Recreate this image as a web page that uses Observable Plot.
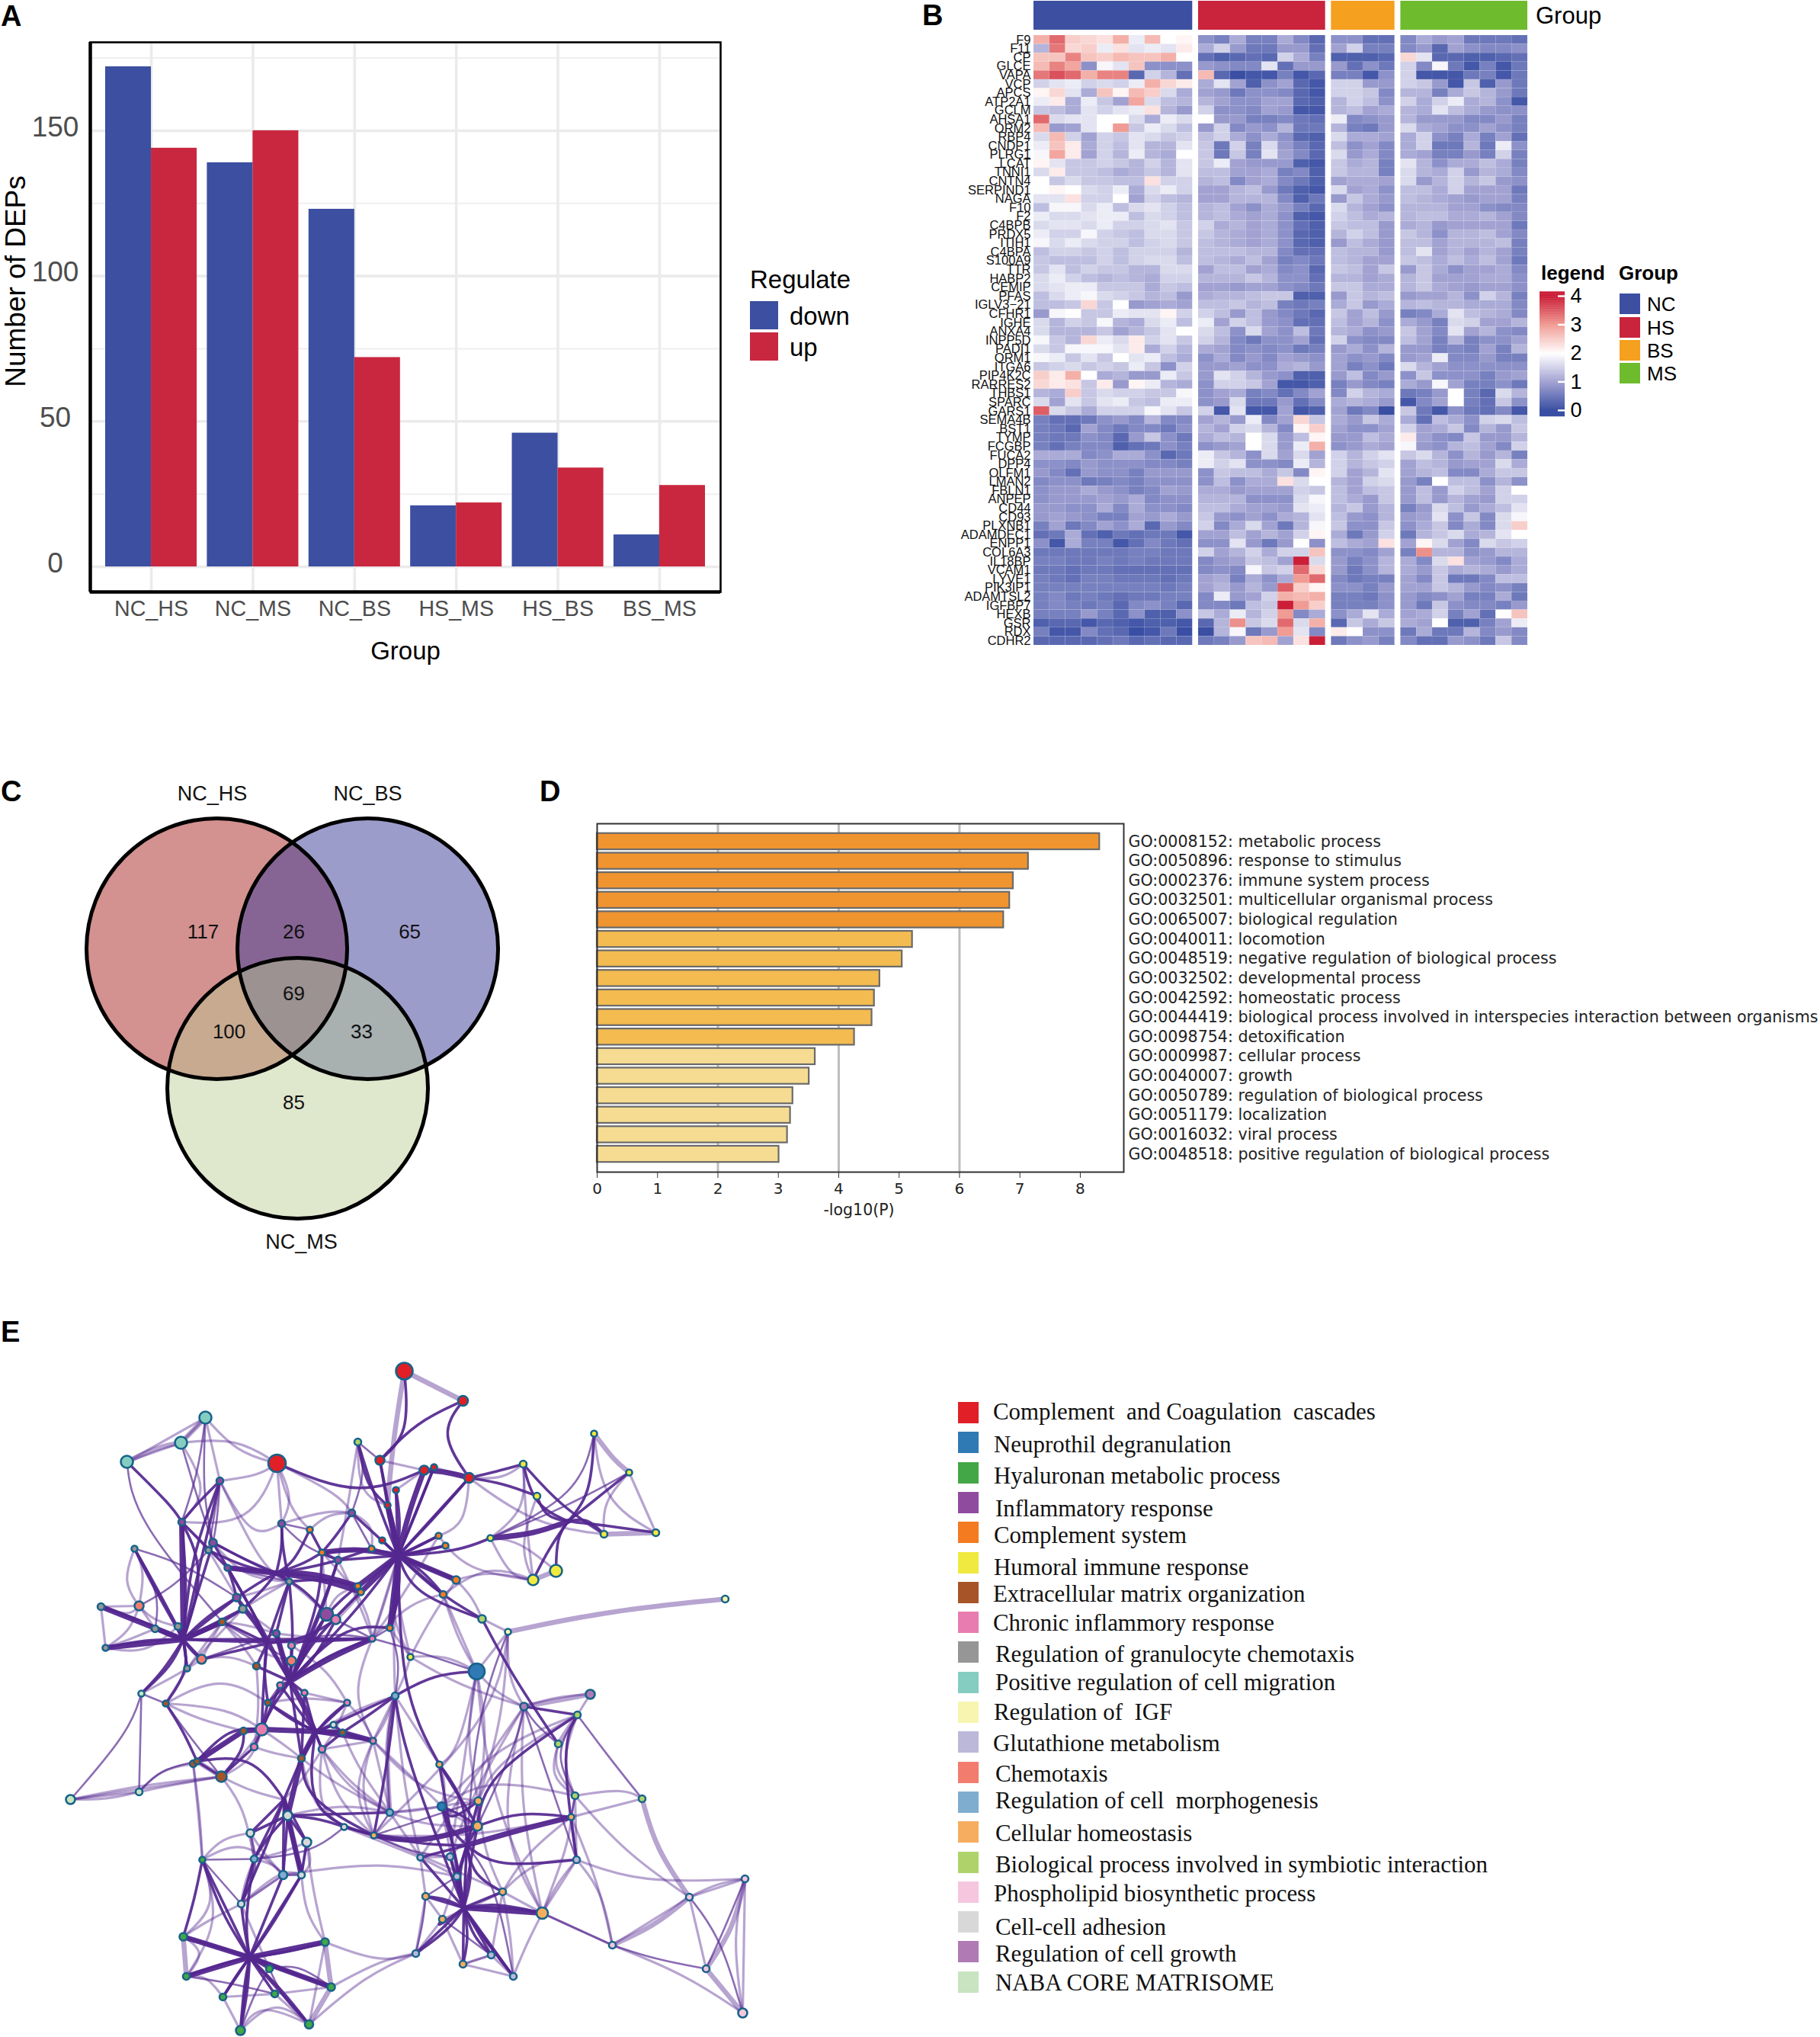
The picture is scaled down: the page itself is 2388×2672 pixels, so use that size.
<!DOCTYPE html>
<html><head><meta charset="utf-8">
<script src="https://cdn.jsdelivr.net/npm/d3@7"></script>
<script src="https://cdn.jsdelivr.net/npm/@observablehq/plot@0.6"></script>
<style>
html,body{margin:0;padding:0;background:#fff}
#page{position:relative;width:2388px;height:2672px;overflow:hidden;font-family:"Liberation Sans",sans-serif}
#page svg{position:absolute;background:transparent;max-width:none;overflow:visible}
.t{position:absolute;white-space:pre;line-height:1}
.s{position:absolute}
</style></head><body><div id="page"></div>
<script>
// ---------- Panel A ----------
const comparisons=["NC_HS","NC_MS","NC_BS","HS_MS","HS_BS","BS_MS"];
const downCounts=[172,139,123,21,46,11];
const upCounts=[144,150,72,22,34,28];
// ---------- Panel B ----------
const genes=["F9","F11","CP","GLCE","VAPA","VCP","APCS","ATP2A1","GCLM","AHSA1","ORM2","RBP4","CNDP1","PLRG1","LCAT","TNNI1","CNTN4","SERPIND1","NAGA","F10","F2","C4BPB","PRDX5","ITIH1","C4BPA","S100A9","TTR","HABP2","CEMIP","PFAS","IGLV3−21","CFHR1","IGHE","ANXA4","INPP5D","PADI1","ORM1","ITGA6","PIP4K2C","RARRES2","THBS1","SPARC","GARS1","SEMA4B","BST1","TYMP","FCGBP","FUCA2","DPP4","OLFM1","LMAN2","FBLN1","ANPEP","CD44","CD93","PLXNB1","ADAMDEC1","ENPP1","COL6A3","IL18BP","VCAM1","LYVE1","PIK3IP1","ADAMTSL2","IGFBP7","HEXB","GSR","RDX","CDHR2"];
const heatGroups=["NC","HS","BS","MS"];
const heatGroupColors=["#3c4fa0","#c9243c","#f5a01e","#6ebb2e"];
// expression level x 10, one row per gene
const ncLevels=[[28,34,25,24,23,28,18,27,20,21],[12,33,24,25,18,23,17,18,17,22],[26,26,32,26,25,27,26,26,28,20],[27,32,29,8,19,17,26,8,8,8],[33,36,34,28,32,32,3,15,12,4],[15,17,18,15,16,15,18,28,24,22],[21,24,17,11,26,21,27,25,16,11],[18,22,11,18,14,10,29,16,13,12],[14,13,11,17,15,17,18,23,12,9],[34,16,17,17,20,20,16,11,18,16],[27,9,10,17,20,30,14,18,16,13],[16,27,15,10,15,14,17,16,14,15],[18,26,22,11,15,13,17,12,12,17],[19,29,22,10,15,12,18,12,11,20],[21,17,14,14,15,14,12,15,12,17],[16,22,14,14,13,11,12,14,12,17],[20,14,16,14,14,13,13,23,15,15],[20,21,20,16,15,18,11,16,18,15],[17,17,23,15,15,20,10,15,13,12],[13,19,19,16,18,13,16,17,15,13],[18,16,16,17,18,18,13,16,15,13],[16,17,17,16,18,15,15,16,17,14],[18,15,15,19,15,14,13,16,16,14],[19,16,18,16,15,15,13,15,16,14],[13,15,15,14,15,13,15,15,15,12],[14,13,13,13,15,13,15,16,16,13],[14,17,13,15,14,14,12,12,16,16],[16,18,15,13,12,13,12,11,15,15],[16,17,18,18,14,14,14,11,14,13],[13,16,18,19,16,15,14,12,13,9],[13,13,14,24,14,20,9,10,11,10],[9,19,20,14,14,18,17,17,21,15],[16,12,15,14,19,12,11,16,18,13],[16,12,12,12,14,10,12,14,17,20],[19,14,12,24,18,16,22,15,17,14],[16,14,19,19,19,17,22,11,15,12],[19,18,14,17,14,20,17,18,13,11],[14,15,16,14,15,14,18,14,8,15],[25,22,28,20,11,12,9,9,18,14],[24,22,23,14,22,9,21,18,12,11],[12,11,25,14,16,15,15,14,14,19],[16,10,17,14,17,18,14,13,18,18],[35,16,14,11,15,15,15,19,17,14],[6,4,4,5,8,9,7,12,7,7],[6,5,3,10,7,5,7,7,5,8],[6,5,5,8,7,3,9,14,8,5],[6,4,6,7,7,2,4,5,8,6],[11,11,11,7,8,11,11,8,3,5],[8,8,7,9,8,8,8,7,7,6],[9,7,4,9,8,8,6,9,9,9],[7,8,8,5,6,7,6,8,8,8],[8,9,9,11,9,8,6,7,10,9],[8,9,9,9,10,9,11,7,8,8],[9,9,8,8,11,7,11,8,8,7],[9,10,9,8,6,6,10,9,11,9],[6,10,5,7,10,8,11,3,9,7],[4,5,11,4,2,5,4,5,5,1],[8,1,11,6,6,1,4,7,5,4],[5,5,5,5,5,5,6,6,5,5],[6,6,5,5,6,5,6,5,5,5],[5,5,4,5,5,4,4,4,4,4],[6,5,4,6,6,5,5,5,4,5],[6,6,6,6,6,6,6,6,5,6],[6,7,5,6,5,4,5,5,6,6],[6,7,6,5,6,3,7,8,6,3],[6,6,6,9,6,3,8,2,2,8],[2,3,3,1,3,2,1,2,2,1],[6,1,1,7,4,3,0,1,5,0],[3,3,3,3,4,5,3,4,3,3]];
const hsLevels=[[8,6,11,6,6,11,7,3],[11,15,9,5,5,9,9,4],[4,2,3,4,3,15,11,6],[9,8,7,7,17,4,9,9],[27,3,0,1,1,6,1,3],[11,17,10,2,8,10,3,1],[10,9,5,8,8,7,3,1],[12,10,8,8,10,10,3,2],[15,8,8,7,10,9,1,1],[20,9,9,6,6,7,5,4],[9,15,7,9,8,12,5,5],[13,15,11,8,11,8,3,2],[14,5,15,6,16,9,6,3],[14,5,14,6,17,10,7,3],[14,18,10,9,9,9,2,1],[13,13,10,10,11,6,7,2],[12,13,7,10,11,7,5,2],[10,10,12,13,9,5,2,1],[10,10,12,12,12,7,2,5],[12,13,10,8,11,9,6,3],[12,13,11,10,11,8,2,1],[15,11,12,10,11,8,4,2],[14,12,11,10,11,8,3,2],[13,12,11,10,11,8,3,2],[13,13,13,12,12,7,4,4],[13,12,11,13,10,6,7,5],[10,13,13,10,11,7,8,3],[12,12,12,14,12,8,8,4],[10,10,9,10,10,8,7,5],[11,12,12,13,14,14,2,2],[13,13,14,12,13,6,5,6],[15,13,9,13,9,7,5,3],[18,10,15,13,9,8,4,4],[16,13,8,16,10,8,13,5],[15,12,7,5,8,8,10,4],[11,10,7,8,7,8,5,6],[8,11,7,9,7,10,9,8],[9,9,10,8,8,11,12,9],[9,17,15,12,9,8,2,2],[8,15,15,14,10,1,1,2],[8,10,11,6,7,4,7,10],[8,9,16,5,5,9,4,7],[15,1,17,1,1,10,1,2],[10,12,9,18,7,10,24,14],[12,10,15,16,12,7,21,25],[11,13,12,20,16,9,13,21],[8,9,10,20,16,9,18,28],[18,14,12,8,16,10,16,10],[18,15,17,8,8,7,18,12],[8,14,13,13,11,14,7,21],[8,13,8,11,11,23,16,20],[11,11,9,10,10,10,15,14],[12,12,12,8,8,8,16,19],[13,13,11,10,10,9,17,18],[14,9,8,10,8,11,12,17],[15,7,11,16,10,5,12,19],[10,10,13,10,12,10,15,21],[8,8,17,9,5,9,20,8],[15,10,12,15,11,15,15,26],[7,9,10,14,13,10,40,16],[7,8,7,19,14,15,34,24],[10,11,6,11,8,11,30,34],[10,12,9,12,9,35,25,21],[7,18,9,10,15,28,27,28],[7,7,5,13,14,40,30,25],[14,11,18,12,15,30,7,11],[3,12,31,14,16,34,16,28],[0,12,19,5,9,30,17,7],[5,6,9,26,27,10,23,40]];
const bsLevels=[[8,8,4,4],[10,15,6,6],[2,2,2,3],[9,4,8,5],[6,6,1,8],[15,15,9,9],[15,15,14,7],[12,15,13,8],[12,13,10,11],[18,7,8,9],[12,6,5,9],[16,11,11,10],[13,8,10,7],[16,9,11,7],[14,11,12,6],[14,12,12,6],[10,11,11,10],[16,10,11,8],[9,14,11,9],[16,12,10,8],[15,13,11,12],[14,13,13,9],[12,15,13,9],[9,13,11,9],[13,12,12,9],[13,12,10,10],[14,13,10,14],[12,12,10,11],[14,14,11,11],[9,14,12,13],[11,14,9,11],[14,10,13,9],[13,10,12,8],[12,11,8,9],[15,8,7,7],[9,11,8,12],[10,8,9,7],[10,6,8,5],[9,13,7,9],[6,9,7,6],[7,15,12,11],[11,12,11,9],[10,5,7,0],[11,9,14,11],[10,8,8,10],[9,9,13,11],[8,9,11,10],[15,12,15,17],[15,12,14,15],[15,10,12,17],[12,10,15,16],[13,10,13,14],[13,11,9,14],[12,14,9,12],[13,9,8,12],[14,8,8,14],[11,5,9,15],[13,11,10,23],[8,8,7,10],[9,6,8,12],[9,5,8,12],[7,5,6,6],[8,8,6,9],[6,6,5,8],[6,6,6,8],[8,11,17,11],[3,14,11,14],[22,20,8,8],[5,8,9,6]];
const msLevels=[[7,11,9,10,5,5,5,4],[7,9,3,10,8,7,7,8],[24,17,3,3,2,2,3,4],[15,7,19,5,1,6,1,5],[15,1,1,1,5,6,1,5],[15,14,9,1,14,2,9,5],[12,12,6,11,14,12,9,5],[15,11,15,18,11,12,8,1],[12,11,17,13,11,9,8,8],[12,9,9,9,7,7,9,6],[16,11,10,8,8,10,8,6],[11,15,8,6,11,6,10,4],[11,15,5,5,12,5,18,8],[11,10,6,6,9,6,15,6],[17,12,8,11,11,13,11,6],[16,12,11,15,9,12,11,7],[16,9,12,15,12,14,9,8],[13,13,11,15,10,10,10,5],[13,12,11,10,9,10,10,6],[12,12,12,10,10,8,7,7],[12,13,13,11,11,12,10,7],[11,12,9,10,10,10,10,5],[14,12,8,12,12,13,10,7],[13,13,10,12,12,12,13,6],[13,17,10,12,10,12,10,6],[14,13,11,13,11,13,10,5],[9,14,11,8,10,10,11,7],[12,14,10,10,10,11,11,8],[12,14,11,10,9,10,10,8],[9,10,10,12,8,15,12,6],[12,13,12,12,11,11,11,7],[6,7,11,17,13,12,11,7],[11,9,6,16,15,10,10,12],[14,10,7,17,10,12,8,7],[13,10,6,12,6,8,8,10],[9,9,6,7,6,10,6,12],[9,10,18,7,7,9,6,6],[16,12,10,8,8,8,8,8],[8,14,8,8,8,6,9,10],[11,9,19,10,6,6,8,5],[5,6,9,20,6,3,16,12],[1,7,10,20,6,4,14,8],[14,5,1,8,5,4,7,1],[11,4,13,11,8,15,16,13],[15,10,11,14,7,12,9,14],[22,10,8,7,14,9,9,12],[19,9,8,12,13,10,7,15],[14,16,12,8,12,9,12,6],[10,13,12,9,10,10,16,11],[10,12,13,7,7,11,14,14],[9,6,20,13,13,8,12,8],[9,13,9,15,13,10,15,20],[9,13,9,12,10,9,15,15],[6,9,16,13,9,11,13,17],[9,10,17,8,14,7,16,19],[8,11,14,7,11,7,16,25],[5,12,14,16,11,12,17,20],[10,21,16,10,7,16,14,15],[6,31,12,12,8,9,12,12],[11,7,16,23,10,9,7,11],[11,9,14,11,12,11,9,11],[10,7,14,5,5,7,13,13],[10,10,14,12,9,7,8,6],[9,7,8,10,6,6,11,5],[9,5,14,8,7,7,6,9],[10,11,15,6,10,4,20,26],[11,10,20,2,2,6,10,18],[5,11,5,5,12,7,9,7],[7,4,4,9,8,5,14,7]];
const heatTicks=[0,1,2,3,4];
const heatStops=["#3a4fa3","#a2a2d2","#ffffff","#f09c94","#cb1f38"];
// ---------- Panel C ----------
const vennNames=["NC_HS","NC_BS","NC_MS"];
const vennColors=["#d39190","#393997","#b8ca90"];
const vennOpacity=[1,.5,.45];
const vennCx=[0,1.158,.62];
const vennCy=[0,0,1.07];
const vennLabelX=[-.035,1.158,.649];
const vennLabelY=[-1.187,-1.187,2.251];
const vennCounts=[117,26,65,69,100,33,85];
const vennCountX=[-.105,.59,1.48,.59,.094,1.111,.59];
const vennCountY=[-.129,-.129,-.129,.345,.637,.637,1.18];
// ---------- Panel D ----------
const goTerms=["GO:0008152: metabolic process","GO:0050896: response to stimulus","GO:0002376: immune system process","GO:0032501: multicellular organismal process","GO:0065007: biological regulation","GO:0040011: locomotion","GO:0048519: negative regulation of biological process","GO:0032502: developmental process","GO:0042592: homeostatic process","GO:0044419: biological process involved in interspecies interaction between organisms","GO:0098754: detoxification","GO:0009987: cellular process","GO:0040007: growth","GO:0050789: regulation of biological process","GO:0051179: localization","GO:0016032: viral process","GO:0048518: positive regulation of biological process"];
const goValues=[8.32,7.14,6.89,6.83,6.73,5.22,5.05,4.68,4.59,4.55,4.26,3.61,3.51,3.24,3.2,3.15,3.01];
const goTiers=[0,0,0,0,0,1,1,1,1,1,1,2,2,2,2,2,2];
const goTierColors=["#f09430","#f3bb50","#f6dc92"];
// ---------- Panel E ----------
const clusterKeys=["R","N","H","I","C","U","E","P","G","M","F","T","X","O","S","B","L","A","W","V"];
const clusterNames=["Complement  and Coagulation  cascades","Neuprothil degranulation","Hyaluronan metabolic process","Inflammatory response","Complement system","Humoral immune response","Extracellular matrix organization","Chronic inflammory response","Regulation of granulocyte chemotaxis","Positive regulation of cell migration","Regulation of  IGF","Glutathione metabolism","Chemotaxis","Regulation of cell  morphogenesis","Cellular homeostasis","Biological process involved in symbiotic interaction","Phospholipid biosynthetic process","Cell-cell adhesion","Regulation of cell growth","NABA CORE MATRISOME"];
const clusterColors=["#e01f26","#2f7ab5","#43a647","#8f4b9e","#f47b20","#f0e93f","#a65428","#e87cb0","#969696","#85cdc0","#f7f5b0","#bcb8da","#f27c6e","#7fadd0","#f7ad5f","#afd36a","#f5c6de","#d8d8d8","#b07ab5","#c8e4c0"];
const legendTextDx=[0,1,1,3,1,1,0,0,3,3,1,0,3,3,3,3,1,3,3,3];
const legendTextDy=[-1,3,4,8,4,6,2,1,3,0,0,2,2,-2,2,3,2,7,3,1];
const nodes=[["R1",530,1798,12],["R2",363,1919,12.5],["R3",498,1915,7],["R4",556,1928,7],["R5",519,1954,5],["R6",508,1974,5],["R7",501,2020,5],["R8",607,1837,7.5],["R9",569,1924,5],["R10",615,1938,7.5],["M1",269,1859,9],["M2",237,1892,9],["M3",166,1917,9],["B1",469,1891,5.5],["B2",632,2123,6],["B3",757,2249,5.5],["B4",732,2287,5.5],["B5",754,2355,5.5],["B6",842,2359,5.5],["I1",288,1942,5.5],["I2",238,1996,5.5],["I3",369,1998,5.5],["I4",461,1984,5.5],["I5",443,2046,5.5],["I6",279,2023,6],["I7",298,2056,5],["I8",310,2095,6],["I9",428,2117,9.5],["I10",362,2142,5.5],["C1",406,2006,5],["C2",487,2031,5],["C3",422,2036,5],["C4",469,2080,5],["C5",473,2088,5],["C6",511,2135,5],["C7",575,2014,5],["C8",584,2027,5],["C9",598,2072,6],["C10",581,2091,5.5],["G1",273,2033,5],["G2",176,2031,5],["G3",379,2074,5],["G4",318,2110,6],["G5",132,2107,5.5],["G6",203,2136,5.5],["G7",233,2133,5.5],["G8",138,2161,5],["G9",245,2188,5],["X1",182,2106,7],["X2",382,2178,7],["X3",264,2176,7],["E1",291,2127,5.5],["E2",336,2185,5.5],["E3",217,2234,5],["E4",253,2313,5.5],["E5",258,2310,5],["E6",290,2330,8],["E7",319,2270,5.5],["E8",351,2233,5],["E9",449,2272,5],["E10",395,2306,5.5],["P1",440,2124,7],["P2",488,2149,5],["P3",382,2158,5.5],["P4",367,2210,5],["P5",343,2268,9],["P6",333,2291,5.5],["P7",399,2220,5],["P8",455,2233,5],["P9",489,2283,5],["P10",422,2294,5.5],["U1",538,2173,5],["U2",686,1920,5.5],["U3",779,1880,5],["U4",825,1931,5],["U5",704,1962,5.5],["U6",860,2010,5.5],["U7",792,2012,5.5],["U8",643,2017,5],["U9",729,2060,9],["U10",699,2072,8],["F1",666,2140,5],["F2",951,2097,5.5],["N1",625,2192,11.5],["N2",579,2369,6.5],["V1",185,2221,5],["V2",92,2360,7],["V3",182,2350,5.5],["A1",437,2262,5],["A2",377,2381,7],["A3",451,2396,5],["A4",328,2404,6],["A5",402,2416,7],["A6",395,2459,5.5],["A7",316,2497,5.5],["O1",518,2224,5.5],["O2",511,2377,5.5],["O3",333,2438,5.5],["O4",371,2459,6.5],["S1",490,2407,5],["S2",576,2314,5],["S3",627,2362,6],["S4",626,2395,7],["S5",749,2383,5],["S6",659,2481,5.5],["S7",558,2487,5.5],["S8",580,2517,5.5],["S9",711,2509,8.5],["S10",607,2576,5.5],["T1",551,2436,5],["T2",590,2435,5.5],["T3",599,2461,5.5],["T4",545,2562,5.5],["T5",644,2564,5.5],["T6",673,2592,5.5],["T7",756,2439,5.5],["H1",265,2439,5],["H2",240,2540,6],["H3",426,2547,6],["H4",244,2592,5.5],["H5",353,2582,5.5],["H6",434,2606,6],["H7",292,2619,5.5],["H8",360,2615,5.5],["H9",405,2655,6.5],["H10",315,2663,7],["W1",774,2222,7],["W2",687,2238,6],["L1",803,2551,5.5],["L2",904,2488,5.5],["L3",977,2464,5.5],["L4",926,2582,5.5],["L5",974,2640,7]];
const bundlePoints=[["hA",522,2040],["hB",240,2150],["hC",413,2272],["hD",372,2360],["hE",327,2567],["hF",608,2502],["hG",612,2420],["hH",380,2205],["hU",745,1995],["hS",362,2063],["hJ",350,2155]];
const edgesBand=["F1>F2@800,2112","R1>R8","M3>M2@205,1898","M2>M1","U3>U4@805,1915","U6>U7","U9>U10","B3>B4","W1>W2","H2>H4","H3>H6","L1>L2@860,2525","L4>L5","L3>L4@962,2530","E5>E6","O1>O2@505,2285","H6>H9","R1>R6@515,1890","B6>L2@860,2425","C5>P1"];
const edgesThick=["R6>hA","R4>hA@535,1985","C4>hA","C5>hA","hA>C6","R10>R4@585,1930","I7>hS","hS>C4@410,2062","G5>hB","G8>hB","P5>E9","E9>P9","E5>E7","E7>P5","E10>A2","H2>hE","H4>hE","H3>hE","S5>hG@680,2400","S1>S4@550,2418","U8>hU@700,2012","C3>hA@470,2030","T3>hF","hC>E10","hS>C5@420,2070","hH>P2@430,2175","hC>hH@400,2240","R6>hA@515,2000","C9>hA","hA>C6@522,2090","G7>hB","I2>hB","E1>hB","I10>hH","A6>hD","S9>hF","H6>hE"];
const edgesDark=["R3>hA","R5>hA","R7>hA","R9>hA","R10>hA","C7>hA","C8>hA","C9>hA","C10>hA","C2>hA","I5>hA","B2>hA@540,2090","R2>R4@470,1965","R1>R3@537,1880","R8>R3@545,1865","I4>hA","R8>R10@575,1880","R10>U2@650,1930","R10>U5@660,1945","U8>hA@600,2035","M3>I2@225,1975","I1>I2@255,1975","I1>hB@262,2050","I2>hB@270,2060","G2>hB@200,2080","I6>hB","E1>hB","I8>hB","G4>hB","G6>hB","G7>hB","X3>hB","G9>hB","V1>hB@225,2185","E3>hB@248,2190","P2>hB@360,2150","I2>I7","I6>I7","I7>I8@305,2075","I7>hH@335,2120","I9>hH@400,2170","P1>hH@410,2180","P2>hH@430,2170","I10>hH","E2>hH","X2>hH","P3>hH","G3>I10","I3>G3@370,2030","C1>C3","C3>C2","C3>I5","I5>C2","I4>C3@440,2015","G3>C4@430,2070","I3>hS@370,2030","I5>hH@420,2120","hH>P4","hH>P7","hH>E8","hH>E10","hH>P5@355,2240","E3>E5@240,2270","E5>P5@300,2265","E6>E7@320,2295","E6>E5","E5>hD@330,2300","E6>P6","P6>P5","P10>E9","A1>E9","P8>E10@420,2260","P7>E10","E8>E9@400,2270","O1>E9@490,2245","P9>E9","E10>hC","P10>hC","O2>A2","A2>A3@420,2385","A3>S1","A2>A4","A2>A5","A2>A6@385,2420","A2>O4","A2>O3@350,2410","O3>A7","A6>hE","O4>hE","H1>hE","H5>hE","H6>hE","H7>hE","H8>hE","H9>hE","H10>hE","A6>A5","O1>S1@510,2300","hA>S2@525,2220","S2>hG@610,2360","S2>hF@590,2400","N2>S3@590,2390","S3>hG","S4>hG","N2>hG@590,2400","T7>hG@650,2450","T1>hG","T1>hF","T2>hF","T3>hF","S6>hF","S7>hF","S8>hF@570,2530","S9>hF@660,2500","T4>hF","T5>hF","T6>hF","S10>hF","hG>hF","B3>S4@635,2330","B2>B4@670,2195","N1>O1@570,2195","W2>B3","B3>T7@735,2290","U2>hU@700,1975","U5>hU@715,1990","U6>hU@790,2000","U7>hU@770,1990","U9>hU@730,2015","U10>hU@720,2030","U4>hU@770,1975","U3>hU@775,1960","U2>U7@735,1975","S4>S5@680,2375","H1>H2@255,2490",
"hJ>E1@320,2140","hJ>G4@335,2130","hJ>I8@335,2125","hJ>I7@330,2110","hJ>G3@365,2110","hJ>E2","hJ>E8@345,2190","hJ>X3@310,2165","hJ>P5@345,2210","hJ>hH","G3>hH@385,2140","C3>hH@420,2100","C4>hH@420,2120","C5>hH@410,2150","I5>hH@425,2100","C6>hH@450,2130","hA>hH@470,2110","hC>P8","hC>P7","hC>P9","hC>E9","hC>A1","hC>P10","hC>O1","hC>E8","E8>P5","P5>P4","P4>hC","E10>hD","hD>O3","hD>O4","hD>A6","hD>A7@350,2420","hD>A4","hD>A5","E10>S1@400,2360","hC>S1@400,2380","S1>hG@560,2420","I6>hS@320,2045","I7>hS@320,2058","G1>hS@320,2055","C1>hS@385,2050","C3>hS@400,2050","I5>hS@410,2055","G3>hS","I8>hS@340,2075","G4>hS@345,2085","I9>hS@400,2085","P1>hJ@400,2150","B1>R6@480,1950","B1>hA@490,1960","R3>R6","R6>hA@515,2010","R5>hA@525,1990","R10>hA@570,1990","R9>hA@545,1985","C9>hA@560,2055","C10>hA@555,2060","C7>hA@545,2030","C8>hA@555,2035","hA>C6@518,2090","hA>C6@525,2090","B2>hA@575,2090","G5>hB@185,2125","G8>hB@190,2150","G6>hB@220,2145","G7>hB@237,2140","I8>hB@270,2120","I8>G4","hB>V1@215,2190","hB>G9@243,2170","I2>hB@245,2080","I1>hB@250,2040","G2>hB@215,2100","E1>hB@265,2140","G4>hB@280,2135","X3>hB@250,2165","P2>hB@370,2155","H2>hE@290,2555","H4>hE@290,2575","H3>hE@380,2560","H6>hE@390,2590","H9>hE@370,2610","H10>hE@320,2600","H10>hE@325,2610","H7>hE@310,2590","H5>hE@345,2570","O3>hE@320,2520","A6>hE@360,2520","H1>hE@290,2510","A7>hE@320,2530","hG>hF@600,2460","hG>hF@620,2460","S9>hF@650,2495","S7>hF@585,2490","S10>hF@615,2540","T6>hF@640,2550","T6>hF@625,2530","T5>hF@620,2540","T4>hF@590,2530","T3>hG","S6>hG@620,2460","S4>hF@615,2450","S2>S4","O1>hF@530,2300","N2>hF@600,2440","N2>S4@605,2380"];
const edgesMid=["M3>E1@175,1990","M1>I6@265,1960","M2>I6@260,1970","M1>I2@260,1930","I1>G1","I1>I6@285,1990","R3>B1","B1>I4@480,1930","I3>C1","I4>C2","I3>I5@400,2030","I7>G3","I6>G3@330,2050","G2>G6@210,2090","G2>I8@240,2050","X1>G1@230,2080","X3>I10@310,2160","E1>X2@330,2150","E3>E6@250,2280","V1>E3","V2>V1@170,2270","V1>V3","V3>E5@210,2320","I9>E8@395,2170","P1>P2","P3>P2@430,2140","P2>C6","C6>O1@525,2180","O1>O2@505,2280","N1>P2@530,2160","O2>S1","S1>S3","S1>T2@540,2430","A4>A7@340,2450","A3>O3@410,2430","A7>H1","H1>O3","T2>T3","T3>S7","S7>T4@555,2520","T5>S8","T6>hG@650,2470","L1>L4@860,2570","S9>L1","H5>H6@390,2575","H5>H9@370,2620","H5>H10@335,2610","H8>H4@300,2600","B5>B3@725,2300","S5>B5","B6>B3@795,2300","W2>B4@700,2260","W2>S4@680,2280","W2>T7@725,2350","F1>hF@620,2260","U3>U8@760,1960","U4>U8@745,1975","L2>L5@945,2540","L3>L4@950,2530"];
const edgesLight=["M1>M2","M2>M3","M1>M3","R2>M2@310,1885","R2>M1@310,1905","M1>I1","R2>I1@340,1935","R2>I3","R2>I3@385,1965","R2>C1@380,1980","R2>I2@330,2000","I1>I3@330,2020","M2>I2@275,1955","I1>G3@345,2060","I3>I4@430,1980","C1>I4@430,1985","R2>I4@445,1960","B1>R6@470,1960","B1>I5@455,1980","R3>R4","R5>R4","I4>C2@490,2000","R10>C7@610,2000","R10>R9","R10>U2@660,1940","R10>U7@700,2000","U2>U8@690,1980","U4>U6","U4>U7@790,1970","U3>U6@790,1970","U8>U9@680,2020","U8>U10@670,2070","U5>U10@680,2030","U2>U10@690,2000","B2>F1","C9>B2@620,2095","C7>U10@610,2060","C9>U10@640,2060","C10>U10@640,2050","C10>N1","X1>G2@190,2060","X1>G2@160,2075","G5>G8","G5>X1@170,2120","X1>G8@170,2140","G1>I8","I2>G1","I6>G3@320,2070","I8>G3@350,2085","G4>G3@350,2090","G4>I10","E1>I10@320,2130","X3>E1@280,2145","I9>C3","I9>C4@440,2090","G3>I9@400,2090","C6>U1","U1>O1@530,2200","N1>U1@585,2170","N1>C10@600,2150","N1>F1","N1>W2@650,2220","F1>W2@665,2200","U1>W2@600,2210","hA>P2","hA>U1@520,2100","hA>O1@515,2140","O1>P9@505,2260","O1>S2@560,2290","H1>E4@260,2380","H1>H4@290,2520","V2>V3","V2>V3@140,2360","V2>E6@190,2340","V3>E4@210,2320","E6>P5@320,2300","P9>P10","P8>P10@440,2270","P9>S3@550,2350","P9>N2@540,2330","A2>O2@450,2365","A4>O3","A5>O3@370,2430","A5>A6","A5>A6@410,2445","O3>O4@360,2445","O4>A6","O4>A6","A7>O4","A7>O3","A7>A6@370,2450","A6>H3@400,2510","H3>T4@500,2575","H6>T4@500,2570","H9>T4@480,2590","H2>H4@270,2560","H1>H2@285,2500","H3>H9","H10>H9@360,2620","H10>H9@340,2625","H7>H10","H7>H8","H8>H9","H6>H8","H4>H7@270,2590","T1>O2","S7>S8","S3>S4","S6>S9","T6>S10","T6>T5","T5>S10","T4>S8","S9>T7@730,2470","S9>S5@745,2420","S9>L1","T7>S5","T7>S5","T7>B5","S5>B5","B5>B4@720,2330","B5>B4@725,2320","W2>S9@680,2360","N1>S9@640,2350","S3>N1@640,2270","S3>N1@610,2280","W1>W2@730,2225","W1>B3","B3>B5@735,2310","B5>B6@820,2345","B6>S5","B5>L2@820,2430","T7>L1@790,2480","T7>L3@840,2470","S5>L1@785,2470","L1>L2","L2>L3","L2>L3@940,2470","L3>L5","L3>L5@960,2540","L2>L4","L1>L5@900,2590","O2>N2","N2>S2@585,2340","O4>T3@500,2440","A3>T1","P10>O2@460,2340","P9>S1@460,2350","P10>S1@440,2360","O1>T1@530,2350","O2>E9@470,2320",
"hA>U1@510,2120","hA>P2@505,2100","C7>P2@530,2090","C10>P2@540,2100","C9>U1@560,2130","I5>P2@470,2100","C3>P2@480,2100","E10>A3@410,2370","P10>A3@415,2370","P9>S1@470,2340","X1>G5","X1>G7@200,2125","X1>G6","G2>G7@205,2085","E1>E3@250,2180","V1>X3@235,2195","G6>G8@170,2150","G7>G8@190,2170","E1>E2@320,2160","E1>X2@340,2170","G4>G9","X3>E2@300,2170","E3>E8@290,2195","E3>P5@300,2240","E3>E7@260,2255","E2>P6@340,2240","E4>E7@290,2290","E6>P5@330,2310","I10>P2@420,2150","P3>P8@430,2190","P8>P9@480,2260","P7>P8","E8>P8@400,2225","P9>O1","P2>P9@460,2220","O1>hC@470,2240","P10>hD@400,2330","E10>O2@440,2340","P10>O2@455,2345","P9>O2@500,2330","P5>E10@375,2290","P6>E10@360,2300","E6>hD@330,2350","E6>O3@320,2370","A4>O4@345,2430","V3>E6@230,2340","V2>E6@190,2345","E4>H1@262,2380","H1>A4@290,2410","H1>O4@320,2410","A7>O3@320,2470","A7>O4@340,2480","A5>H3@410,2480","H2>A7@270,2520","A7>H5@330,2530","N2>S3@600,2365","N2>S4@600,2385","S4>S3","N2>O2@545,2375","O2>S4@560,2395","S1>S5@620,2410","T2>T3","T1>T2","T1>T3","T1>S7","S7>T4","T3>S8","S6>S8@620,2500","S6>T5@650,2530","S8>S10","S10>T5","S6>T6@670,2540","S9>T6@690,2550","S1>S6@590,2450","S5>S6@690,2430","T7>S6@700,2440","T7>S9","N2>T3@590,2430","S3>T3@610,2430","S4>T2","S4>T3","S3>S6@635,2430","B5>N2@640,2330","B3>N2@650,2290","B3>S3@650,2310","W2>S9@650,2400","W2>T2@620,2350","W2>T1@615,2340","N1>S2@600,2300","N1>T2@610,2300","F1>S1@650,2250","F1>S3@660,2250"];

// ---------- page helpers ----------
const page=document.getElementById("page");
const place=(node,left,top)=>{node.style.left=left+"px";node.style.top=top+"px";page.appendChild(node);};
function label(text,x,y,{size=26,weight="normal",family="Liberation Sans",color="#000",ax=0,rot=0}={}){
  const d=document.createElement("div");d.className="t";d.textContent=text;
  Object.assign(d.style,{left:x+"px",top:y+"px",fontSize:size+"px",fontWeight:weight,fontFamily:`"${family}"`,color,transform:`translate(${-ax*100}%,-50%) rotate(${rot}deg)`});
  page.appendChild(d);
}
function swatch(x,y,w,h,color){
  const d=document.createElement("div");d.className="s";
  Object.assign(d.style,{left:x+"px",top:y+"px",width:w+"px",height:h+"px",background:color});
  page.appendChild(d);
}
// panel letters
[["A",1,21],["B",1210,20],["C",1,1038],["D",708,1038],["E",1,1747]].forEach(([s,x,y])=>label(s,x,y,{size:38,weight:"bold"}));

// ---------- Panel A: grouped bars ----------
const regulateColors=["#3c4fa0","#c9273f"];
const barRows=comparisons.flatMap((g,i)=>[
  {i,x1:i-.45,x2:i,v:downCounts[i],reg:"down"},
  {i,x1:i,x2:i+.45,v:upCounts[i],reg:"up"}]);
const yDomA=[-8.65,180.4];
place(Plot.plot({
  width:960,height:880,marginLeft:118,marginRight:15,marginTop:55,marginBottom:104,
  style:{fontFamily:"Liberation Sans",background:"transparent"},
  x:{domain:[-.6,5.6]},y:{domain:yDomA},
  color:{domain:["down","up"],range:regulateColors},
  marks:[
    Plot.ruleY([25,75,125,175],{stroke:"#efefef",strokeWidth:2}),
    Plot.ruleY([0,50,100,150],{stroke:"#ebebeb",strokeWidth:3.6}),
    Plot.ruleX(d3.range(comparisons.length),{stroke:"#ebebeb",strokeWidth:3.6}),
    Plot.rect(barRows,{x1:"x1",x2:"x2",y1:0,y2:"v",fill:"reg"}),
    Plot.frame({stroke:"#000",strokeWidth:2.6}),
    Plot.ruleX([-.6],{stroke:"#000",strokeWidth:4.5}),
    Plot.ruleY([yDomA[0]],{stroke:"#000",strokeWidth:4.5}),
    Plot.axisY({ticks:[0,50,100,150],tickSize:0,tickPadding:46,textAnchor:"middle",fontSize:37,fill:"#4d4d4d",dy:-4.6,label:null}),
    Plot.axisX({ticks:d3.range(comparisons.length),tickFormat:i=>comparisons[i],tickSize:0,tickPadding:11,fontSize:28.6,fill:"#4d4d4d",label:null})
  ]
}),0,0);
label("Number of DEPs",20,369,{size:37,ax:.5,rot:-90});
label("Group",532,853,{size:33,ax:.5});
label("Regulate",984,366,{size:33});
swatch(984,395,37,37,regulateColors[0]);swatch(984,436,37,37,regulateColors[1]);
label("down",1036,414,{size:33});label("up",1036,455,{size:33});

// ---------- Panel B: heatmap ----------
const gap=.37;
const groupLevels=[ncLevels,hsLevels,bsLevels,msLevels];
let start=0;
const groupSpans=heatGroups.map((g,k)=>{const n=groupLevels[k][0].length;const o={g,x1:start,x2:start+n};start+=n+gap;return o;});
const xMaxB=start-gap;
const heatColor={type:"linear",domain:heatTicks,range:heatStops,clamp:true,interpolate:"rgb"};
const heatCells=groupSpans.flatMap((s,k)=>groupLevels[k].flatMap((row,r)=>row.map((lv,c)=>({gene:genes[r],x1:s.x1+c,x2:s.x1+c+1,v:lv/10}))));
place(Plot.plot({
  width:830,height:860,marginLeft:156,marginRight:26,marginTop:46,marginBottom:14,
  style:{fontFamily:"Liberation Sans",background:"transparent"},
  x:{domain:[0,xMaxB]},y:{domain:genes,padding:0},color:heatColor,
  marks:[
    Plot.barX(heatCells,{x1:"x1",x2:"x2",y:"gene",fill:"v",stroke:"#fff",strokeOpacity:.1,strokeWidth:.6}),
    Plot.axisY({tickSize:0,tickPadding:4,fontSize:16.5,fill:"#111",label:null}),
    Plot.axisX({ticks:[],label:null})
  ]
}),1200,0);
place(Plot.plot({
  width:830,height:40,marginLeft:156,marginRight:26,marginTop:1,marginBottom:1,
  x:{domain:[0,xMaxB],axis:null},color:{domain:heatGroups,range:heatGroupColors},
  style:{background:"transparent"},
  marks:[Plot.rect(groupSpans,{x1:"x1",x2:"x2",fill:"g"})]
}),1200,0);
label("Group",2015,20,{size:31});
label("legend",2022,358,{size:26,weight:"bold"});
label("Group",2124,358,{size:26,weight:"bold"});
heatGroups.forEach((g,k)=>{const ys=[385,416,446,476];swatch(2125,ys[k],27,27,heatGroupColors[k]);label(g,2161,ys[k]+14,{size:26});});
const legendLevels=d3.range(-.19,4.17,.02);
place(Plot.plot({
  width:80,height:163,marginLeft:0,marginRight:47,marginTop:0,marginBottom:0,
  style:{fontFamily:"Liberation Sans",background:"transparent"},
  x:{domain:[0,33],axis:null},y:{domain:[-.19,4.16]},color:heatColor,
  marks:[
    Plot.ruleY(legendLevels,{stroke:d=>d,strokeWidth:1.4}),
    Plot.ruleY([0,1,3,4],{x1:24,x2:33,stroke:"#fff",strokeWidth:2.4}),
    Plot.axisY({ticks:heatTicks,tickFormat:d=>String(d),anchor:"right",tickSize:0,tickPadding:7,fontSize:27,fill:"#000",label:null})
  ]
}),2020,382);

// ---------- Panel C: Venn ----------
const vennSets=vennNames.map((name,i)=>({name,x:vennCx[i],y:vennCy[i],lx:vennLabelX[i],ly:vennLabelY[i],color:vennColors[i],op:vennOpacity[i]}));
const vennRegions=vennCounts.map((n,i)=>({n,x:vennCountX[i],y:vennCountY[i]}));
place(Plot.plot({
  width:700,height:680,margin:0,
  style:{fontFamily:"Liberation Sans",background:"transparent"},
  x:{domain:[0,1],range:[284,455],axis:null},y:{domain:[0,1],range:[244,415],axis:null},
  marks:[
    ...vennSets.map(s=>Plot.dot([s],{x:"x",y:"y",r:171,fill:s.color,fillOpacity:s.op,stroke:"none"})),
    Plot.dot(vennSets,{x:"x",y:"y",r:171,fill:"none",stroke:"#000",strokeWidth:5}),
    Plot.text(vennRegions,{x:"x",y:"y",text:d=>String(d.n),fontSize:26,fill:"#111"}),
    Plot.text(vennSets,{x:"lx",y:"ly",text:"name",fontSize:27,fill:"#111"})
  ]
}),0,1000);

// ---------- Panel D: GO bars ----------
const goRows=goTerms.map((term,i)=>({term,v:goValues[i],tier:goTiers[i]}));
place(Plot.plot({
  width:1688,height:560,marginLeft:83,marginRight:914,marginTop:20,marginBottom:83,
  style:{fontFamily:"DejaVu Sans",background:"transparent"},
  x:{domain:[0,8.72]},y:{domain:goTerms,paddingInner:.17,paddingOuter:.5,round:false},
  color:{domain:[0,1,2],range:goTierColors,type:"ordinal"},
  marks:[
    Plot.ruleX([2,4,6],{stroke:"#bdbdbd",strokeWidth:3}),
    Plot.barX(goRows,{x:"v",y:"term",fill:"tier",stroke:"#6a6a6a",strokeWidth:2.2}),
    Plot.frame({stroke:"#333",strokeWidth:2}),
    Plot.axisX({ticks:d3.range(0,9),tickSize:8,tickPadding:6,fontSize:20,fill:"#222",stroke:"#333",label:null}),
    Plot.axisY({anchor:"right",tickSize:0,tickPadding:6,fontSize:20.6,fill:"#222",label:null})
  ]
}),700,1060);
label("-log10(P)",1127,1587,{size:20.5,family:"DejaVu Sans",color:"#222",ax:.5});

// ---------- Panel E: network ----------
const lookup=new Map([...nodes,...bundlePoints].map(n=>[n[0],n]));
const edgePoints=list=>list.flatMap((tok,e)=>{
  const [pair,via]=tok.split("@");const [a,b]=pair.split(">");
  const A=lookup.get(a),B=lookup.get(b);
  const mids=via?[via.split(",").map(Number)]:[];
  return [[A[1],A[2]],...mids,[B[1],B[2]]].map(p=>({e,x:p[0],y:p[1]}));
});
const nodeRows=nodes.map(([id,x,y,r])=>({id,x,y,r:r-1,cat:id.replace(/[0-9]/g,"")}));
const edgeMark=(list,w,o)=>Plot.line(edgePoints(list),{x:"x",y:"y",z:"e",stroke:"#54278f",strokeWidth:w,strokeOpacity:o,curve:"basis"});
place(Plot.plot({
  width:1000,height:912,margin:0,
  style:{background:"transparent"},
  x:{domain:[0,1000],range:[0,1000],axis:null},y:{domain:[1760,2672],range:[0,912],axis:null},
  color:{domain:clusterKeys,range:clusterColors},
  r:{type:"identity"},
  marks:[
    edgeMark(edgesBand,6.5,.42),
    edgeMark(edgesLight,3.2,.42),
    edgeMark(edgesMid,2.6,.68),
    edgeMark(edgesDark,3.6,.92),
    edgeMark(edgesThick,7,.95),
    Plot.dot(nodeRows,{x:"x",y:"y",r:"r",fill:"cat",stroke:"#17638a",strokeWidth:2.6})
  ]
}),0,1760);
clusterNames.forEach((name,i)=>{
  const cy=1853+i*39.3;
  swatch(1257,cy-14,27,28,clusterColors[i]);
  label(name,1303+legendTextDx[i],cy+legendTextDy[i],{size:30.9,family:"Liberation Serif",color:"#111"});
});
</script></body></html>
